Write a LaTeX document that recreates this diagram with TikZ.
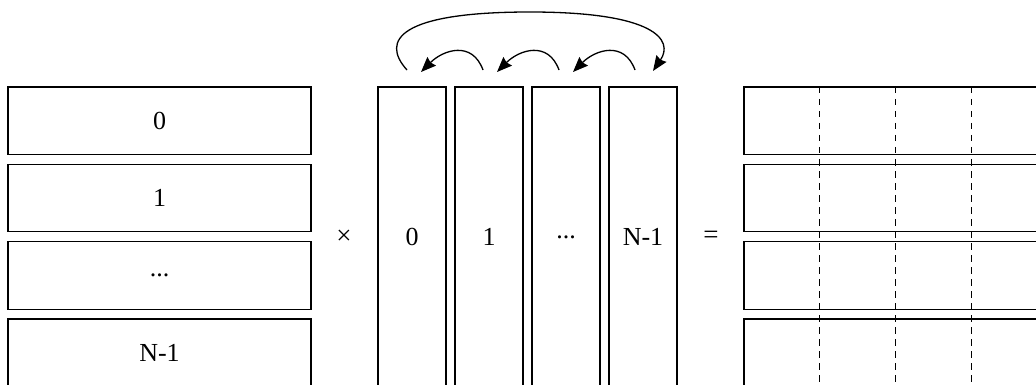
\documentclass[tikz,border=0pt]{standalone}
\usepackage{fontspec}
\setmainfont{Liberation Serif}
\usetikzlibrary{arrows.meta}
\begin{document}
\begin{tikzpicture}[x=1pt,y=-1pt,
  box/.style={draw,line width=1.2pt,inner sep=0pt,outer sep=0pt,font=\fontsize{26}{30}\selectfont},
  rowbox/.style={box,minimum width=303pt,minimum height=67.5pt},
  colbox/.style={box,minimum width=68pt,minimum height=300pt},
  resbox/.style={box,minimum width=356pt,minimum height=67.5pt},
  op/.style={inner sep=0pt,font=\fontsize{27}{30}\selectfont},
  split/.style={dash pattern=on 6.5pt off 5.5pt,line width=1pt},
  arr/.style={line width=1.3pt,-{Stealth[length=15pt,width=12pt,inset=1.5pt]}}]
\useasboundingbox (0,0) rectangle (1036,385);
\clip (0,0) rectangle (1036,385);
% left matrix rows
\node[rowbox] (r0) at (159.5,120.75) {0};
\node[rowbox] (r1) at (159.5,198.05) {1};
\node[rowbox] (r2) at (159.5,275.35) {...};
\node[rowbox] (r3) at (159.5,352.65) {N-1};
% operators
\node[op] (times) at (344,237) {×};
\node[op] (eq) at (711,237) {=};
% columns
\node[colbox] (c0) at (412,237) {0};
\node[colbox] (c1) at (489,237) {1};
\node[colbox] (c2) at (566,237) {...};
\node[colbox] (c3) at (643,237) {N-1};
% result rows
\node[resbox] (s0) at (922,120.75) {};
\node[resbox] (s1) at (922,198.05) {};
\node[resbox] (s2) at (922,275.35) {};
\node[resbox] (s3) at (922,352.65) {};
% dashed splits
\foreach \xx in {819,895,971}{
  \draw[split] (\xx,87) -- (\xx,390);
}
% rotation arrows
\draw[arr] ([xshift=-6pt,yshift=17pt]c1.north) to[out=110,in=45,looseness=1.3] ([xshift=9pt,yshift=15pt]c0.north);
\draw[arr] ([xshift=-7pt,yshift=17pt]c2.north) to[out=110,in=45,looseness=1.3] ([xshift=8pt,yshift=15pt]c1.north);
\draw[arr] ([xshift=-8pt,yshift=17pt]c3.north) to[out=110,in=45,looseness=1.3] ([xshift=7pt,yshift=15pt]c2.north);
\coordinate (top) at (530,12);
\draw[arr] ([xshift=-5pt,yshift=17pt]c0.north) .. controls (380,40) and (400,12) .. (top) .. controls (655,12) and (674,40) .. ([xshift=10pt,yshift=16pt]c3.north);
\end{tikzpicture}
\end{document}
